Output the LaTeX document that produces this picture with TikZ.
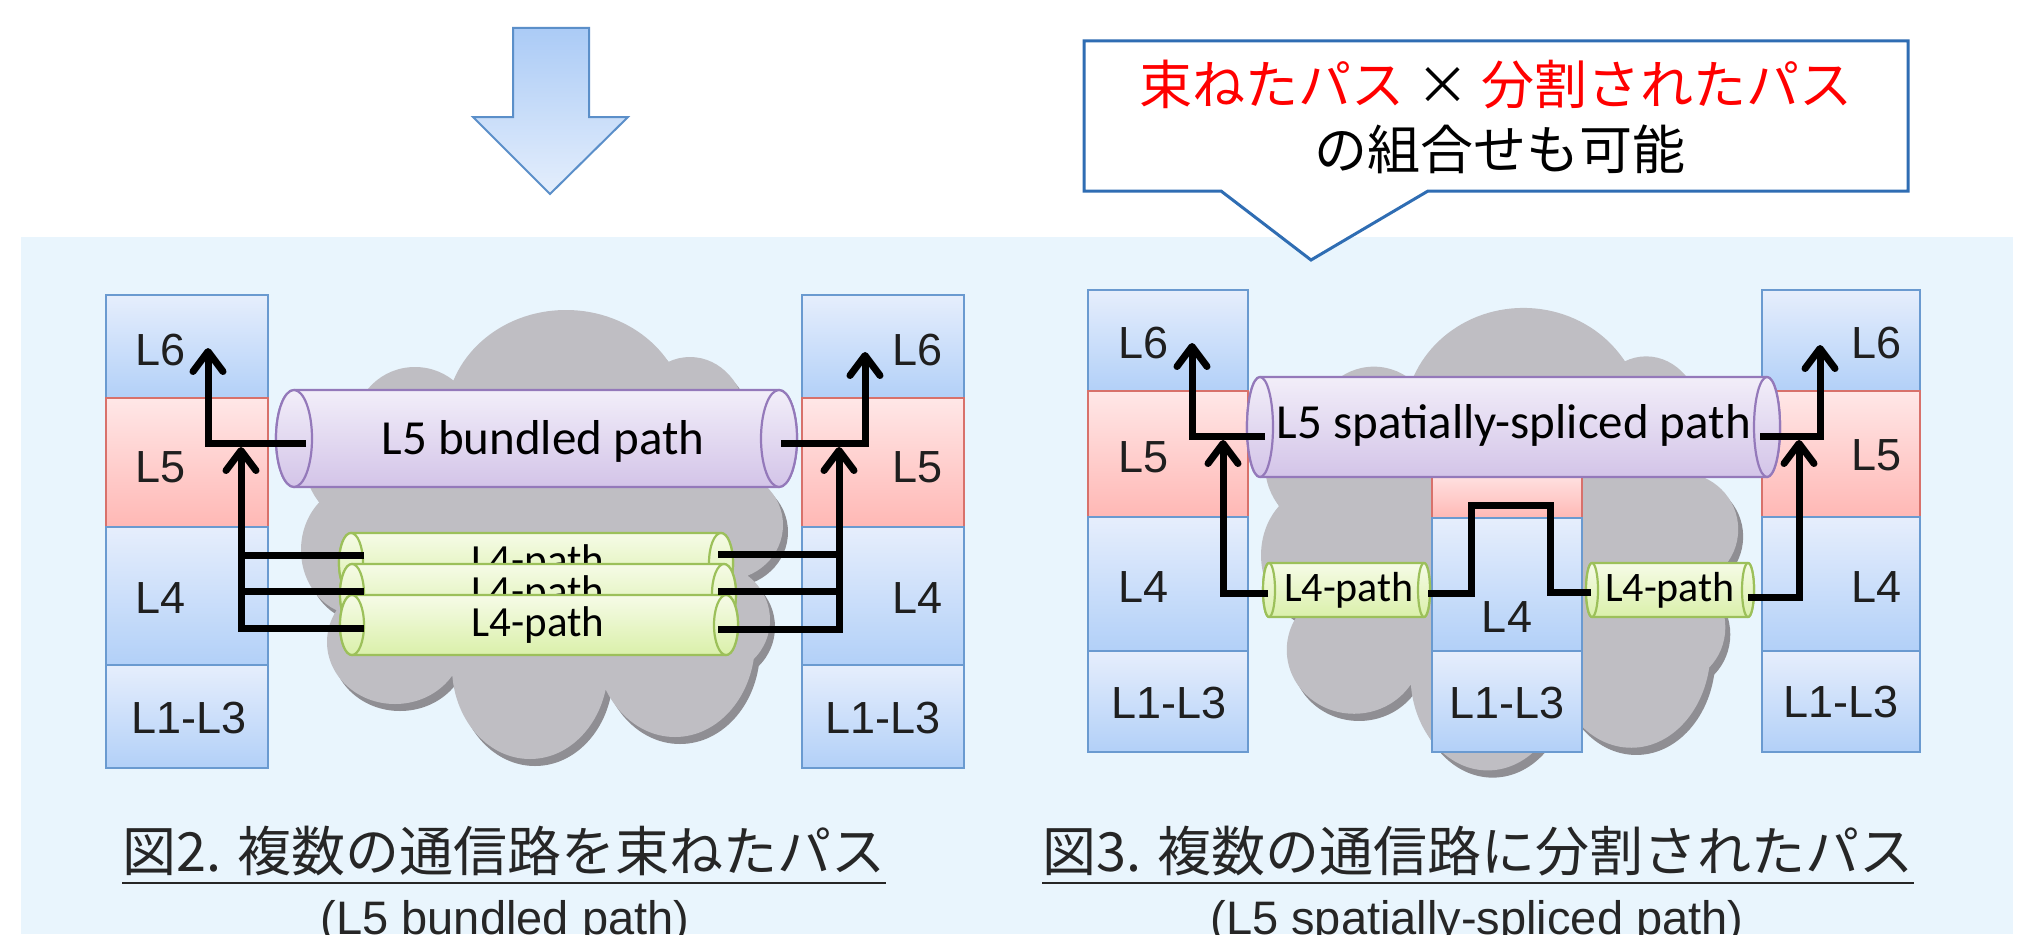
\documentclass[tikz,border=0pt]{standalone}
\usepackage{fontspec}
\setmainfont{Liberation Sans}
\newfontfamily\calfont{Carlito}
\newfontfamily\jpfont{Noto Sans CJK JP}
\usetikzlibrary{arrows.meta}

\definecolor{bgc}{HTML}{E9F5FD}
\definecolor{arrtop}{HTML}{ABCBF6}
\definecolor{arrbot}{HTML}{E4EEFC}
\definecolor{arrline}{HTML}{5B8FC9}
\definecolor{callline}{HTML}{2F6DB3}
\definecolor{laybtop}{HTML}{E6EEFC}
\definecolor{laybbot}{HTML}{B2D0F8}
\definecolor{laybline}{HTML}{6A9AD0}
\definecolor{layrtop}{HTML}{FFE7E7}
\definecolor{layrbot}{HTML}{FFB8B5}
\definecolor{layrline}{HTML}{D8716B}
\definecolor{tubevtop}{HTML}{F2EEF9}
\definecolor{tubevbot}{HTML}{D3C4E8}
\definecolor{tubevline}{HTML}{9479BA}
\definecolor{tubegtop}{HTML}{F6FBE7}
\definecolor{tubegbot}{HTML}{DAF0AA}
\definecolor{tubegline}{HTML}{9CC05A}
\definecolor{cloudc}{HTML}{BFBEC3}
\definecolor{cloudsh}{HTML}{8F8E93}
\definecolor{jpred}{HTML}{FF0000}

\tikzset{
  lay/.style={draw=lay#1line, top color=lay#1top, bottom color=lay#1bot,
    line width=2.5pt, inner sep=0pt, outer sep=0pt, anchor=north west},
  tubev/.style={draw=tubevline, top color=tubevtop, bottom color=tubevbot, line width=2.2pt},
  tubeg/.style={draw=tubegline, top color=tubegtop, bottom color=tubegbot, line width=2.2pt},
  lbl/.style={font=\fontsize{45}{54}\selectfont, inner sep=0pt, text=black!88},
  lfive/.style={font=\calfont\fontsize{49}{58}\selectfont, inner sep=0pt},
  lfour/.style={font=\calfont\fontsize{43}{52}\selectfont, inner sep=0pt},
  lfoursm/.style={font=\calfont\fontsize{42}{50}\selectfont, inner sep=0pt},
  jpcall/.style={font=\jpfont\fontsize{53}{62}\selectfont, inner sep=0pt},
  jpcap/.style={font=\jpfont\fontsize{54}{64}\selectfont, inner sep=0pt, text=black!85},
  subcap/.style={font=\fontsize{47}{56}\selectfont, inner sep=0pt, text=black!85},
  uline/.style={line width=2.5pt, black!85},
  flow/.style={line width=7pt, line join=miter, line cap=butt},
  tip/.style={-{Straight Barb[length=20pt, width=30pt, line cap=round, line join=round]}},
  bigarrow/.style={draw=arrline, top color=arrtop, bottom color=arrbot, line width=2pt, line join=miter},
  callout/.style={draw=callline, fill=white, line width=3pt, line join=miter},
}

\newcommand\layer[6]{\node[lay=#2, minimum width=#5pt, minimum height=#6pt] (#1) at (#3,#4) {};}

% #1 kind (v/g), #2 xl, #3 xr, #4 yt, #5 yb, #6 rx
\newcommand\tube[6]{%
  \pgfmathsetmacro\tubery{(#5-#4)/2}%
  \pgfmathsetmacro\tubeyc{(#4+#5)/2}%
  \path[tube#1] (#2+#6,#4) -- (#3-#6,#4)
     arc[start angle=-90, end angle=90, x radius=#6, y radius=\tubery]
     -- (#2+#6,#5)
     arc[start angle=90, end angle=270, x radius=#6, y radius=\tubery] -- cycle;
  \path[tube#1] (#3-#6,\tubeyc) ellipse[x radius=#6, y radius=\tubery];
  \path[tube#1] (#2+#6,\tubeyc) ellipse[x radius=#6, y radius=\tubery];
}

\newcommand\cloudfill[1]{%
  \fill[#1] (263,106) ellipse[x radius=120, y radius=108]
    (112,113) ellipse[x radius=60, y radius=58]
    (387,108) ellipse[x radius=56, y radius=63]
    (57,150) ellipse[x radius=55, y radius=60]
    (55,238) ellipse[x radius=57, y radius=65]
    (92,330) ellipse[x radius=68, y radius=62]
    (227,355) ellipse[x radius=78, y radius=92]
    (372,330) ellipse[x radius=80, y radius=95]
    (412,308) ellipse[x radius=55, y radius=55]
    (422,213) ellipse[x radius=58, y radius=55]
    (242,218) ellipse[x radius=200, y radius=160];}

\begin{document}
\begin{tikzpicture}[x=1pt, y=-1pt]
\useasboundingbox (0,0) rectangle (2039,934);
\fill[white] (0,0) rectangle (2039,934);
\fill[bgc] (21,237) rectangle (2013,934);

% big down arrow
\draw[bigarrow] (513,28) -- (589,28) -- (589,117) -- (628,117) -- (550,194) -- (473,117) -- (513,117) -- cycle;

% callout
\draw[callout] (1084,41) -- (1908,41) -- (1908,191) -- (1428,191) -- (1311,260) -- (1221,191) -- (1084,191) -- cycle;
\node[jpcall] (co1) at (1496,85) {\textcolor{jpred}{束ねたパス} × \textcolor{jpred}{分割されたパス}};
\node[jpcall] (co2) at (1500,149) {の組合せも可能};

% ---------------- Figure 2 ----------------
\begin{scope}[shift={(303,312)}]
  \cloudfill{cloudsh, shift={(5,7)}}
  \cloudfill{cloudc}
\end{scope}

\layer{A6}{b}{106}{295}{162}{103}
\layer{A5}{r}{106}{398}{162}{129}
\layer{A4}{b}{106}{527}{162}{138}
\layer{A13}{b}{106}{665}{162}{103}
\node[lbl, anchor=west] (A6l) at (135,350) {L6};
\node[lbl, anchor=west] (A5l) at (135,467) {L5};
\node[lbl, anchor=west] (A4l) at (135,598) {L4};
\node[lbl] (A13l) at (189,718) {L1-L3};

\layer{B6}{b}{802}{295}{162}{103}
\layer{B5}{r}{802}{398}{162}{129}
\layer{B4}{b}{802}{527}{162}{138}
\layer{B13}{b}{802}{665}{162}{103}
\node[lbl, anchor=east] (B6l) at (943,350) {L6};
\node[lbl, anchor=east] (B5l) at (943,467) {L5};
\node[lbl, anchor=east] (B4l) at (943,598) {L4};
\node[lbl] (B13l) at (883,718) {L1-L3};

\tube{v}{276}{797}{390}{487}{18}
\node[lfive] (T5) at (543,441) {L5 bundled path};
\tube{g}{339}{733}{533}{593}{12}
\node[lfour] (T41) at (538,563) {L4-path};
\tube{g}{340}{736}{564}{624}{12}
\node[lfour] (T42) at (538,594) {L4-path};
\tube{g}{340}{738}{595}{655}{12}
\node[lfour] (T43) at (538,625) {L4-path};

\coordinate (p5L) at (306,443);
\coordinate (t6L) at (208,348);
\draw[flow, tip] (p5L) -| (t6L);
\coordinate (q1L) at (364,555);
\coordinate (q2L) at (364,591);
\coordinate (q3L) at (364,628);
\coordinate (t5L) at (241,447);
\draw[flow] (q1L) -- (q1L -| t5L);
\draw[flow] (q2L) -- (q2L -| t5L);
\draw[flow, tip] (q3L) -| (t5L);

\coordinate (p5R) at (781,443);
\coordinate (t6R) at (865,352);
\draw[flow, tip] (p5R) -| (t6R);
\coordinate (q1R) at (718,554);
\coordinate (q2R) at (718,591);
\coordinate (q3R) at (718,629);
\coordinate (t5R) at (839,447);
\draw[flow] (q1R) -- (q1R -| t5R);
\draw[flow] (q2R) -- (q2R -| t5R);
\draw[flow, tip] (q3R) -| (t5R);

% ---------------- Figure 3 ----------------
\begin{scope}[shift={(1263,310)}, xscale=0.99, yscale=1.03]
  \cloudfill{cloudsh, shift={(5,7)}}
  \cloudfill{cloudc}
\end{scope}

\layer{C6}{b}{1088}{290}{160}{101}
\layer{C5}{r}{1088}{391}{160}{126}
\layer{C4}{b}{1088}{517}{160}{134}
\layer{C13}{b}{1088}{651}{160}{101}
\node[lbl, anchor=west] (C6l) at (1118,343) {L6};
\node[lbl, anchor=west] (C5l) at (1118,457) {L5};
\node[lbl, anchor=west] (C4l) at (1118,587) {L4};
\node[lbl] (C13l) at (1169,703) {L1-L3};

\layer{M5}{r}{1432}{470}{150}{48}
\layer{M4}{b}{1432}{518}{150}{133}
\layer{M13}{b}{1432}{651}{150}{101}
\node[lbl] (M4l) at (1507,617) {L4};
\node[lbl] (M13l) at (1507,703) {L1-L3};

\layer{D6}{b}{1762}{290}{158}{101}
\layer{D5}{r}{1762}{391}{158}{126}
\layer{D4}{b}{1762}{517}{158}{134}
\layer{D13}{b}{1762}{651}{158}{101}
\node[lbl, anchor=east] (D6l) at (1902,343) {L6};
\node[lbl, anchor=east] (D5l) at (1902,455) {L5};
\node[lbl, anchor=east] (D4l) at (1902,587) {L4};
\node[lbl] (D13l) at (1841,702) {L1-L3};

\tube{v}{1247}{1780}{377}{477}{13}
\node[lfive] (S5) at (1514,425) {L5 spatially-spliced path};
\tube{g}{1263}{1430}{563}{617}{6}
\node[lfoursm] (S4a) at (1349,590) {L4-path};
\tube{g}{1586}{1754}{563}{617}{6}
\node[lfoursm] (S4b) at (1670,590) {L4-path};

\coordinate (f5L) at (1265,436);
\coordinate (f6L) at (1192,343);
\draw[flow, tip] (f5L) -| (f6L);
\coordinate (g4L) at (1268,593);
\coordinate (g5L) at (1223,440);
\draw[flow, tip] (g4L) -| (g5L);

\coordinate (z0) at (1428,593);
\coordinate (z1) at (1471,505);
\coordinate (z2) at (1550,505);
\coordinate (z3) at (1591,592);
\draw[flow] (z0) -| (z1) -- (z2) |- (z3);

\coordinate (f5R) at (1760,436);
\coordinate (f6R) at (1820,345);
\draw[flow, tip] (f5R) -| (f6R);
\coordinate (g4R) at (1748,597);
\coordinate (g5R) at (1799,440);
\draw[flow, tip] (g4R) -| (g5R);

% ---------------- captions ----------------
\coordinate (ul) at (0,883);
\node[jpcap] (cap2) at (504,851) {図2. 複数の通信路を束ねたパス};
\draw[uline] (cap2.west |- ul) -- (cap2.east |- ul);
\node[subcap, anchor=base] (sub2) at (505,934) {(L5 bundled path)};

\node[jpcap] (cap3) at (1478,851) {図3. 複数の通信路に分割されたパス};
\draw[uline] (cap3.west |- ul) -- (cap3.east |- ul);
\node[subcap, anchor=base] (sub3) at (1477,934) {(L5 spatially-spliced path)};
\end{tikzpicture}
\end{document}
